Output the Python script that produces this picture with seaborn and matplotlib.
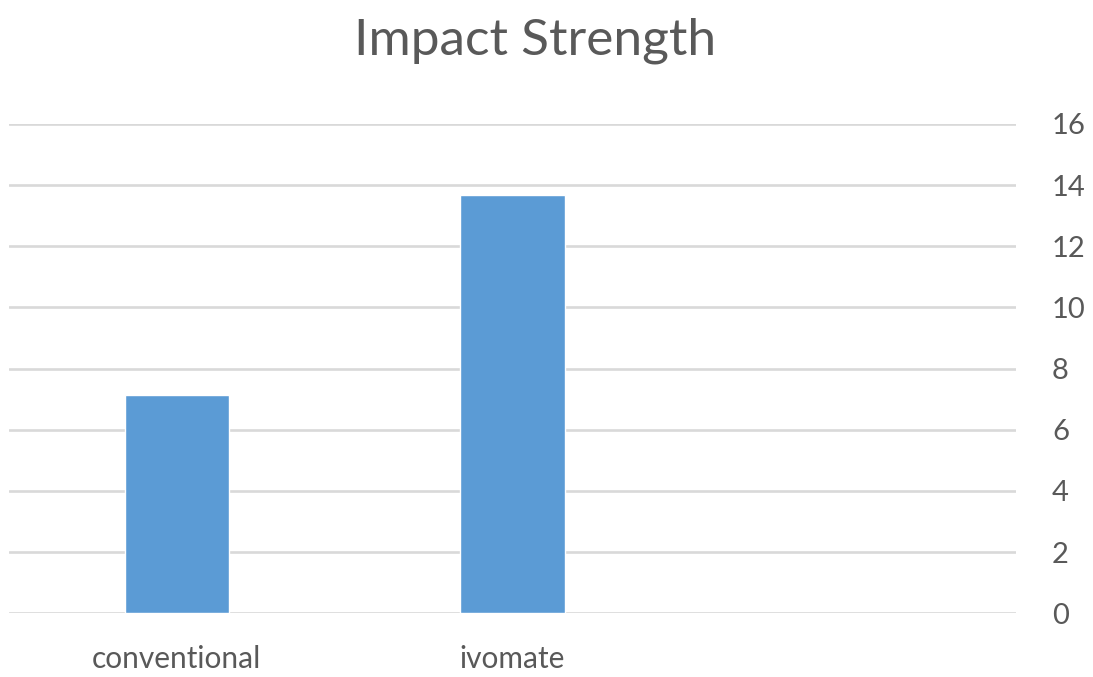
import matplotlib
matplotlib.use("Agg")
import matplotlib.pyplot as plt
import seaborn as sns
import pandas as pd

# chart data
categories = ["conventional", "ivomate", ""]
strength = [7.13, 13.68, None]
y_ticks = [0, 2, 4, 6, 8, 10, 12, 14, 16]

df = pd.DataFrame({"material": categories, "strength": strength})

sns.set_style("white")
plt.rcParams["font.family"] = ["Lato", "DejaVu Sans"]

text_color = "#595959"
grid_color = "#d9d9d9"
bar_color = "#5b9bd5"

fig = plt.figure(figsize=(10.93, 6.77), dpi=100)
ax = fig.add_axes([9 / 1093, 1 - 613.3 / 677, 1007 / 1093, (613.3 - 124) / 677])

sns.barplot(data=df.dropna(), x="material", y="strength", color=bar_color,
            width=0.31, saturation=1, ax=ax, zorder=3)

ax.set_xlim(-0.5, len(categories) - 0.5)
ax.set_xticks(range(len(categories)))
ax.set_xticklabels(categories)
ax.set_ylim(0, 16)
ax.set_yticks(y_ticks)
ax.yaxis.tick_right()
ax.set_xlabel("")
ax.set_ylabel("")

ax.grid(axis="y", color=grid_color, linewidth=1.9, zorder=0)
ax.set_axisbelow(True)
for side in ax.spines.values():
    side.set_visible(False)

ax.tick_params(axis="y", length=0, pad=26, labelsize=21, labelcolor=text_color)
ax.tick_params(axis="x", length=0, pad=23, labelsize=21.5, labelcolor=text_color)

fig.text(535 / 1093, 1 - 55 / 677, "Impact Strength", ha="center", va="baseline",
         fontsize=37, color=text_color)

fig.savefig("out.png", dpi=100)
